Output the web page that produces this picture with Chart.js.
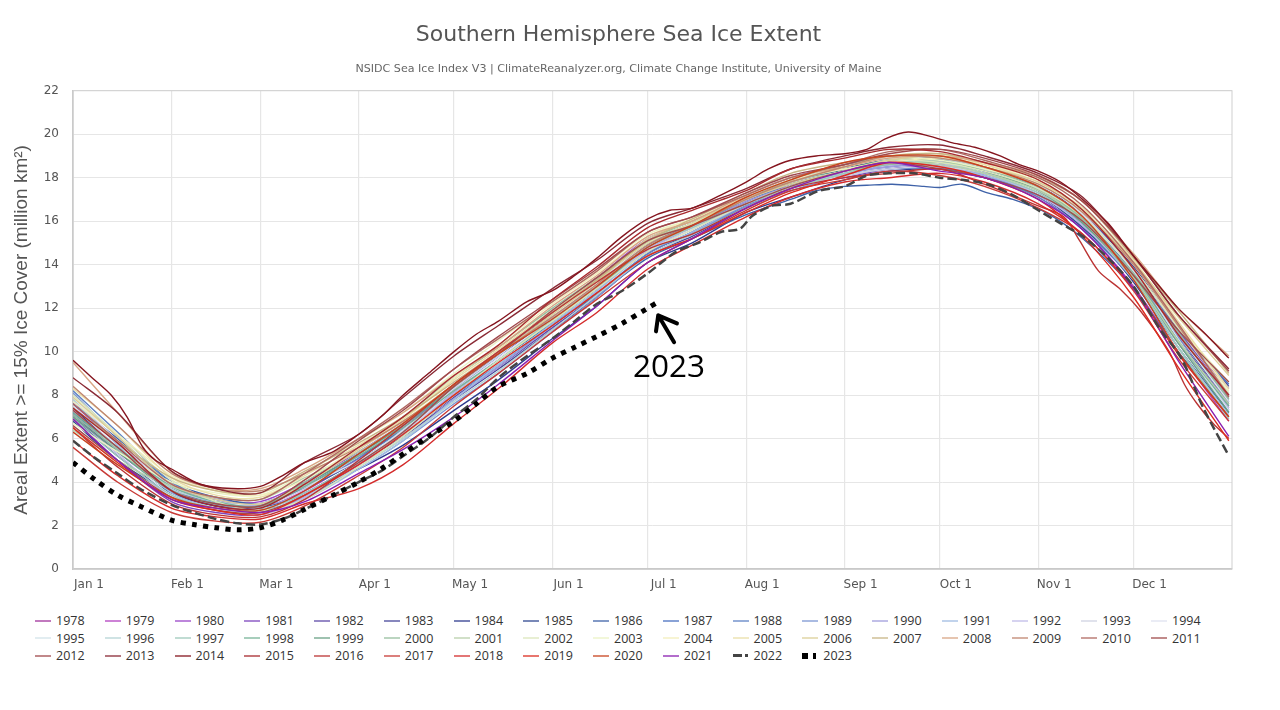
<!DOCTYPE html>
<html>
<head>
<meta charset="utf-8">
<title>Southern Hemisphere Sea Ice Extent</title>
<script src="https://cdn.jsdelivr.net/npm/chart.js@4/dist/chart.umd.min.js"></script>
<style>
    html, body { margin: 0; padding: 0; background: #fff; overflow: hidden; }
    #chartBox { position: absolute; left: 0; top: 0; width: 1236px; height: 600px; }
    #yearLegend {
        position: absolute; left: 35px; top: 612px;
        display: grid; grid-template-columns: repeat(17, 69.75px); grid-auto-rows: 17.5px;
        font: 12.5px "Open Sans", sans-serif; color: #333;
    }
    .legend-item { display: flex; align-items: center; height: 17.5px; }
    .legend-line { display: inline-block; width: 16px; height: 2px; margin-right: 5px; opacity: 0.65; }
    .legend-line.dashed { height: 3px; opacity: 1; background: linear-gradient(90deg, #444 9px, transparent 9px, transparent 12px, #444 12px, #444 15px, transparent 15px) !important; }
    .legend-line.dotted { height: 6px; opacity: 1; background: linear-gradient(90deg, #000 6px, transparent 6px, transparent 11px, #000 11px, #000 14px, transparent 14px) !important; }
    #note2023 { position: absolute; left: 633px; top: 343px; font: 31.5px "Open Sans", sans-serif; color: #000; }
</style>
</head>
<body>
<div id="chartBox"><canvas id="iceChart"></canvas></div>
<div id="note2023">2023</div>
<div id="yearLegend"></div>
<script>
/* Tick positions (day of year) and labels */
const monthDays = [0, 31, 59, 90, 120, 151, 181, 212, 243, 273, 304, 334];
const monthLabels = ['Jan 1', 'Feb 1', 'Mar 1', 'Apr 1', 'May 1', 'Jun 1', 'Jul 1', 'Aug 1', 'Sep 1', 'Oct 1', 'Nov 1', 'Dec 1'];

const sampleDays = [0, 14, 31, 45, 59, 73, 90, 104, 120, 134, 151, 165, 181, 195, 212, 226, 243, 257, 273, 287, 304, 318, 334, 348, 364];
// the lines that stand out of the bundle were read more closely
const days1986 = [0, 14, 31, 45, 59, 73, 90, 104, 120, 134, 151, 165, 181, 195, 212, 226, 234, 243, 250, 258, 268, 273, 280, 288, 296, 307, 318, 334, 348, 364];
const days2014 = [0, 6, 12, 17, 22, 26, 31, 40, 50, 59, 66, 73, 82, 90, 97, 104, 112, 120, 127, 134, 143, 151, 158, 165, 173, 181, 188, 195, 204, 212, 219, 226, 234, 243, 250, 256, 263, 270, 277, 284, 292, 298, 304, 311, 318, 326, 334, 341, 348, 356, 364];
const days2016 = [0, 14, 31, 45, 59, 73, 90, 104, 120, 134, 151, 165, 181, 195, 212, 226, 243, 257, 273, 287, 304, 312, 317, 323, 330, 336, 345, 350, 354, 359, 364];
const days2022 = [0, 7, 14, 21, 31, 38, 45, 52, 59, 66, 73, 82, 90, 97, 104, 112, 120, 127, 134, 143, 151, 158, 165, 173, 181, 190, 197, 204, 210, 214, 220, 226, 235, 243, 250, 257, 265, 273, 280, 288, 296, 304, 311, 318, 326, 334, 342, 349, 356, 364];
const days2023 = [0, 7, 14, 21, 31, 38, 45, 52, 59, 66, 73, 82, 90, 97, 104, 112, 120, 127, 134, 143, 151, 158, 165, 173, 181, 185];

const y1978 = [null, null, null, null, null, null, null, null, null, null, null, null, null, null, null, null, null, null, null, null, 17.4, 16.1, 13.6, 10.5, 7.4];
const y1979 = [7.3, 5.5, 3.7, 3.0, 2.8, 3.6, 5.1, 6.5, 8.3, 9.8, 11.6, 13.0, 14.8, 15.7, 16.9, 17.7, 18.3, 18.6, 18.5, 18.1, 17.1, 15.6, 13.0, 10.0, 6.8];
const y1980 = [7.6, 5.8, 3.9, 3.2, 3.1, 4.0, 5.4, 6.7, 8.5, 10.0, 11.9, 13.4, 15.2, 16.0, 17.2, 18.0, 18.6, 18.9, 18.8, 18.4, 17.6, 16.2, 13.7, 10.9, 8.3];
const y1981 = [6.9, 5.0, 3.1, 2.6, 2.5, 3.3, 4.8, 6.3, 8.2, 9.8, 11.8, 13.3, 15.0, 15.8, 17.0, 17.6, 18.0, 18.4, 18.5, 18.2, 17.5, 16.2, 13.9, 11.0, 8.0];
const y1982 = [7.1, 5.4, 3.6, 3.0, 2.9, 3.7, 5.0, 6.2, 7.9, 9.3, 11.1, 12.6, 14.5, 15.5, 16.8, 17.6, 18.4, 18.8, 18.7, 18.3, 17.4, 16.0, 13.6, 10.6, 7.6];
const y1983 = [7.0, 5.2, 3.5, 2.9, 2.8, 3.5, 4.9, 6.1, 7.8, 9.2, 11.0, 12.5, 14.4, 15.3, 16.6, 17.5, 18.3, 18.7, 18.8, 18.4, 17.6, 16.3, 13.9, 11.1, 8.4];
const y1984 = [7.4, 5.6, 3.6, 2.9, 2.8, 3.4, 4.6, 5.7, 7.3, 8.7, 10.6, 12.1, 14.1, 15.0, 16.4, 17.1, 17.9, 18.3, 18.4, 18.0, 17.2, 15.8, 13.2, 10.2, 7.2];
const y1985 = [6.8, 5.0, 3.5, 3.0, 2.9, 3.8, 5.2, 6.4, 8.1, 9.6, 11.4, 12.9, 14.6, 15.4, 16.7, 17.6, 18.4, 18.7, 18.5, 18.0, 17.2, 15.7, 13.4, 10.7, 7.7];
const y1986 = [7.6, 6.0, 4.0, 3.3, 3.0, 3.7, 5.0, 6.3, 8.2, 9.6, 11.3, 12.6, 14.3, 15.2, 16.3, 17.0, 17.4, 17.6, 17.65, 17.7, 17.6, 17.55, 17.7, 17.3, 17.0, 16.35, 15.2, 12.9, 10.0, 7.3];
const y1987 = [7.2, 5.5, 3.7, 3.1, 3.0, 3.9, 5.3, 6.6, 8.3, 9.8, 11.6, 13.0, 14.9, 15.8, 16.9, 17.7, 18.2, 18.5, 18.6, 18.2, 17.5, 16.1, 13.7, 11.0, 8.5];
const y1988 = [8.2, 6.3, 4.0, 3.2, 3.0, 3.8, 5.1, 6.4, 8.0, 9.4, 11.2, 12.7, 14.5, 15.5, 16.7, 17.6, 18.1, 18.4, 18.4, 18.0, 17.1, 15.6, 13.3, 10.4, 7.5];
const y1989 = [8.1, 6.1, 3.9, 3.0, 2.7, 3.3, 4.6, 5.9, 7.6, 9.0, 10.9, 12.5, 14.4, 15.4, 16.7, 17.4, 18.1, 18.6, 18.5, 18.1, 17.2, 15.9, 13.5, 10.7, 7.9];
const y1990 = [7.7, 5.9, 3.8, 3.2, 2.9, 3.5, 4.8, 6.0, 7.8, 9.3, 11.2, 12.8, 14.7, 15.7, 16.9, 17.6, 18.2, 18.5, 18.7, 18.3, 17.4, 16.0, 13.6, 10.8, 7.8];
const y1991 = [7.8, 5.7, 3.5, 2.8, 2.6, 3.2, 4.6, 5.9, 7.8, 9.4, 11.3, 12.8, 14.6, 15.5, 16.8, 17.6, 18.3, 18.6, 18.5, 18.1, 17.3, 15.9, 13.3, 10.2, 7.1];
const y1992 = [7.0, 5.3, 3.3, 2.7, 2.5, 3.3, 4.9, 6.3, 8.1, 9.6, 11.4, 12.9, 14.7, 15.6, 16.8, 17.5, 18.2, 18.6, 18.6, 18.2, 17.2, 15.8, 13.3, 10.4, 7.4];
const y1993 = [7.5, 5.6, 3.6, 3.0, 2.9, 3.7, 5.2, 6.6, 8.4, 9.9, 11.6, 13.1, 14.8, 15.7, 16.8, 17.5, 18.1, 18.4, 18.5, 18.2, 17.5, 16.1, 13.8, 11.1, 8.0];
const y1994 = [7.9, 5.9, 3.8, 3.1, 3.0, 3.8, 5.0, 6.3, 8.2, 9.7, 11.5, 13.0, 15.0, 15.9, 17.0, 17.8, 18.3, 18.7, 18.9, 18.4, 17.7, 16.3, 13.7, 10.8, 7.7];
const y1995 = [7.3, 5.5, 3.4, 2.8, 2.6, 3.4, 4.9, 6.4, 8.3, 9.8, 11.7, 13.2, 15.0, 15.9, 17.1, 17.9, 18.5, 18.9, 18.9, 18.5, 17.6, 16.2, 13.7, 10.6, 7.3];
const y1996 = [7.8, 5.8, 3.7, 3.1, 2.8, 3.4, 4.7, 6.0, 7.7, 9.1, 11.0, 12.6, 14.4, 15.4, 16.6, 17.5, 18.2, 18.7, 18.8, 18.4, 17.5, 16.1, 13.4, 10.2, 7.0];
const y1997 = [6.9, 5.2, 3.4, 2.8, 2.7, 3.5, 4.9, 6.2, 8.0, 9.6, 11.5, 13.0, 14.8, 15.7, 16.8, 17.5, 18.2, 18.7, 18.7, 18.2, 17.3, 15.9, 13.3, 10.2, 6.9];
const y1998 = [7.2, 5.6, 3.8, 3.1, 2.9, 3.8, 5.2, 6.5, 8.2, 9.6, 11.4, 12.9, 14.8, 15.8, 17.0, 17.9, 18.6, 19.0, 18.9, 18.5, 17.6, 16.0, 13.5, 10.5, 7.5];
const y1999 = [7.0, 5.4, 3.6, 3.0, 2.9, 3.9, 5.3, 6.6, 8.4, 10.0, 11.8, 13.3, 15.0, 15.9, 17.0, 17.8, 18.4, 18.8, 18.8, 18.3, 17.4, 15.9, 13.4, 10.4, 7.2];
const y2000 = [7.1, 5.5, 3.6, 3.0, 2.9, 4.0, 5.6, 7.0, 8.8, 10.2, 12.0, 13.4, 15.1, 16.0, 17.0, 17.7, 18.3, 18.6, 18.7, 18.4, 17.5, 16.1, 13.6, 10.9, 7.8];
const y2001 = [6.4, 5.0, 3.8, 3.3, 3.2, 4.2, 5.4, 6.7, 8.5, 10.0, 11.8, 13.3, 15.1, 15.9, 17.1, 17.9, 18.4, 18.7, 18.6, 18.2, 17.4, 16.0, 13.4, 10.5, 7.6];
const y2002 = [8.0, 6.2, 4.1, 3.1, 2.7, 3.2, 4.7, 6.1, 8.0, 9.6, 11.4, 12.9, 14.6, 15.6, 16.8, 17.6, 18.3, 18.8, 18.7, 18.3, 17.5, 16.2, 13.8, 11.1, 8.1];
const y2003 = [6.7, 5.4, 4.0, 3.5, 3.4, 4.4, 5.9, 7.2, 9.0, 10.5, 12.3, 13.7, 15.4, 16.1, 17.2, 18.0, 18.5, 18.9, 18.8, 18.4, 17.7, 16.4, 14.0, 11.2, 8.6];
const y2004 = [7.7, 6.2, 4.3, 3.6, 3.4, 4.1, 5.6, 6.9, 8.8, 10.3, 12.2, 13.6, 15.3, 16.1, 17.1, 17.9, 18.4, 18.7, 18.9, 18.6, 17.9, 16.5, 14.0, 11.3, 8.2];
const y2005 = [8.3, 6.6, 4.2, 3.4, 3.3, 4.3, 5.7, 6.9, 8.7, 10.1, 11.9, 13.3, 15.0, 15.9, 17.0, 17.8, 18.5, 19.0, 19.1, 18.6, 17.8, 16.6, 14.2, 11.4, 8.3];
const y2006 = [7.9, 6.1, 3.9, 3.2, 3.0, 3.9, 5.5, 6.8, 8.5, 9.9, 11.7, 13.2, 15.2, 16.0, 17.0, 17.7, 18.3, 18.8, 19.0, 18.5, 17.8, 16.5, 14.1, 11.6, 8.9];
const y2007 = [7.4, 5.9, 4.2, 3.6, 3.5, 4.5, 5.8, 7.0, 8.6, 10.0, 11.8, 13.3, 15.1, 16.1, 17.3, 18.2, 18.7, 19.0, 19.1, 18.7, 18.0, 16.9, 14.3, 11.9, 9.0];
const y2008 = [9.5, 7.2, 4.5, 3.7, 3.7, 4.6, 6.0, 7.2, 8.9, 10.2, 12.1, 13.5, 15.3, 16.0, 17.2, 18.0, 18.5, 18.9, 19.0, 18.7, 18.1, 16.9, 14.5, 12.0, 9.8];
const y2009 = [8.4, 6.6, 4.4, 3.7, 3.6, 4.4, 5.6, 6.8, 8.4, 9.9, 11.6, 13.1, 14.9, 15.8, 17.0, 17.8, 18.5, 19.0, 18.9, 18.5, 17.7, 16.4, 14.0, 11.2, 8.0];
const y2010 = [7.6, 5.9, 3.9, 3.3, 3.2, 4.4, 6.0, 7.4, 9.2, 10.6, 12.3, 13.7, 15.5, 16.2, 17.2, 18.0, 18.6, 19.2, 19.3, 18.8, 18.0, 16.7, 14.1, 11.3, 7.9];
const y2011 = [6.6, 5.0, 3.3, 2.7, 2.6, 3.4, 4.9, 6.3, 8.4, 9.9, 11.9, 13.4, 15.1, 15.8, 16.8, 17.6, 18.3, 18.7, 18.4, 18.0, 17.2, 16.0, 13.5, 11.0, 8.6];
const y2012 = [7.3, 5.6, 3.6, 3.0, 2.9, 4.1, 5.9, 7.3, 9.2, 10.7, 12.4, 13.8, 15.5, 16.2, 17.3, 18.1, 18.6, 19.1, 19.3, 18.9, 18.1, 16.9, 14.4, 11.7, 9.1];
const y2013 = [8.8, 7.2, 4.5, 3.7, 3.5, 4.9, 6.2, 7.9, 9.8, 11.2, 12.9, 14.2, 15.9, 16.6, 17.5, 18.4, 19.0, 19.4, 19.5, 19.0, 18.2, 17.1, 14.4, 11.7, 9.2];
const y2014 = [9.6, 8.8, 8.0, 7.0, 5.6, 5.0, 4.6, 3.9, 3.7, 3.8, 4.3, 4.9, 5.4, 6.2, 7.0, 8.0, 9.0, 10.0, 10.8, 11.4, 12.3, 12.8, 13.5, 14.3, 15.3, 16.1, 16.5, 16.6, 17.2, 17.8, 18.4, 18.8, 19.0, 19.1, 19.3, 19.8, 20.1, 19.9, 19.6, 19.4, 19.0, 18.6, 18.3, 17.8, 17.0, 15.9, 14.4, 13.2, 12.0, 10.9, 9.7];
const y2015 = [7.4, 5.8, 3.6, 2.9, 2.8, 3.9, 5.6, 7.0, 8.9, 10.3, 12.4, 13.9, 15.7, 16.5, 17.4, 18.4, 18.9, 19.3, 19.2, 18.7, 17.9, 16.5, 13.8, 10.8, 8.0];
const y2016 = [6.5, 4.7, 3.0, 2.5, 2.4, 3.2, 5.0, 6.6, 8.5, 10.0, 11.8, 13.2, 14.7, 15.4, 16.6, 17.5, 18.0, 18.2, 18.4, 17.7, 16.7, 16.2, 15.1, 13.7, 12.85, 11.9, 10.05, 8.5, 7.6, 6.7, 6.0];
const y2017 = [5.6, 4.0, 2.6, 2.2, 2.15, 2.9, 4.3, 5.6, 7.5, 9.0, 10.9, 12.4, 14.1, 15.2, 16.5, 17.4, 17.9, 18.3, 18.1, 17.6, 16.6, 15.4, 12.8, 9.7, 6.8];
const y2018 = [5.9, 4.3, 2.8, 2.4, 2.3, 3.0, 3.7, 4.8, 6.7, 8.3, 10.4, 11.8, 13.8, 14.9, 16.2, 17.1, 17.8, 18.0, 18.2, 17.8, 16.8, 15.4, 12.9, 9.9, 7.0];
const y2019 = [6.5, 4.9, 3.2, 2.7, 2.5, 3.4, 4.8, 6.2, 8.0, 9.5, 11.2, 12.7, 14.4, 15.2, 16.4, 17.3, 18.1, 18.7, 18.5, 18.0, 17.0, 15.3, 12.5, 9.3, 5.9];
const y2020 = [6.3, 4.8, 3.3, 2.8, 2.7, 3.6, 5.3, 6.7, 8.5, 9.9, 11.5, 13.0, 14.8, 15.8, 17.1, 17.9, 18.7, 19.0, 19.0, 18.5, 17.6, 16.2, 13.3, 10.0, 7.0];
const y2021 = [6.9, 5.0, 3.2, 2.8, 2.6, 3.1, 4.4, 5.5, 7.0, 8.5, 10.5, 12.1, 14.1, 15.2, 16.6, 17.5, 18.3, 18.7, 18.3, 18.0, 17.0, 15.6, 12.9, 9.6, 6.1];
const y2022 = [5.9, 5.1, 4.4, 3.7, 2.95, 2.6, 2.3, 2.1, 2.05, 2.3, 2.75, 3.4, 4.0, 4.5, 5.2, 6.0, 7.0, 7.8, 8.8, 9.8, 10.6, 11.4, 12.2, 12.8, 13.6, 14.6, 15.0, 15.5, 15.65, 16.25, 16.7, 16.8, 17.4, 17.6, 18.1, 18.2, 18.2, 18.0, 17.9, 17.7, 17.2, 16.5, 15.9, 15.3, 14.3, 13.0, 11.1, 9.7, 7.4, 5.2];
const y2023 = [4.9, 4.1, 3.4, 2.9, 2.25, 2.05, 1.9, 1.8, 1.9, 2.25, 2.75, 3.4, 4.0, 4.6, 5.3, 6.1, 6.8, 7.6, 8.4, 9.0, 9.7, 10.2, 10.7, 11.3, 12.0, 12.35];

const years = [1978, 1979, 1980, 1981, 1982, 1983, 1984, 1985, 1986, 1987, 1988, 1989, 1990, 1991, 1992, 1993, 1994,
    1995, 1996, 1997, 1998, 1999, 2000, 2001, 2002, 2003, 2004, 2005, 2006, 2007, 2008, 2009, 2010, 2011,
    2012, 2013, 2014, 2015, 2016, 2017, 2018, 2019, 2020, 2021, 2022, 2023];
const yearValues = [y1978, y1979, y1980, y1981, y1982, y1983, y1984, y1985, y1986, y1987, y1988, y1989, y1990, y1991, y1992, y1993, y1994,
    y1995, y1996, y1997, y1998, y1999, y2000, y2001, y2002, y2003, y2004, y2005, y2006, y2007, y2008, y2009, y2010, y2011,
    y2012, y2013, y2014, y2015, y2016, y2017, y2018, y2019, y2020, y2021, y2022, y2023];
const yearColors = ['#a0319b', '#b23fc0', '#9a45c8', '#7d45bd', '#5e4aa8', '#47469a', '#2f3c8f', '#2f4890', '#3f62a8', '#4a70c0', '#5f83c4', '#7c96d2', '#a09cdc', '#a0bce2', '#c0bbe8', '#d0d2e2', '#dfe2f0',
    '#d2e4ea', '#b6d4d6', '#9ecabc', '#78b498', '#6aa285', '#96bf9e', '#b8d0ab', '#dbe6bb', '#ebf2c4', '#f2eebc', '#eadfa8', '#dccf98', '#c8b585', '#d8a685', '#c08670', '#b06a62', '#a04c4c',
    '#a0484c', '#8a2a35', '#85151f', '#a82a2e', '#bb3434', '#c83a36', '#d42c2c', '#dc2c20', '#c8431f', '#8a1fb0', '#444444', '#000000'];
const yearDays = { 1986: days1986, 2014: days2014, 2016: days2016, 2022: days2022, 2023: days2023 };

const DASH_2022 = [9, 4];
const DOT_2023 = [5, 6.3];

/* ── Chart ── */
const plotBorder = {
    id: 'plotBorder',
    beforeDatasetsDraw(chart) {
        const { ctx, chartArea: a } = chart;
        ctx.save();
        ctx.strokeStyle = '#cfcfcf';
        ctx.lineWidth = 1;
        ctx.strokeRect(a.left, a.top, a.right - a.left, a.bottom - a.top);
        ctx.restore();
    }
};

// hand drawn arrow next to the 2023 line, in chart values
const arrow2023 = {
    id: 'arrow2023',
    afterDatasetsDraw(chart) {
        const { ctx, scales: { x, y } } = chart;
        const px = (d, v) => [x.getPixelForValue(d), y.getPixelForValue(v)];
        ctx.save();
        ctx.strokeStyle = '#000';
        ctx.lineWidth = 4;
        ctx.lineCap = 'round';
        ctx.lineJoin = 'round';
        ctx.beginPath();
        ctx.moveTo(...px(189.3, 10.43));
        ctx.lineTo(...px(184.3, 11.67));
        ctx.moveTo(...px(183.6, 10.93));
        ctx.lineTo(...px(184.3, 11.67));
        ctx.lineTo(...px(190.2, 11.3));
        ctx.stroke();
        ctx.restore();
    }
};

function buildDatasets() {
    return years.map((year, i) => {
        const days = yearDays[year] || sampleDays;
        return {
            label: String(year),
            data: days.map((d, k) => ({ x: d, y: yearValues[i][k] })),
            borderColor: yearColors[i],
            borderWidth: year === 2023 ? 5 : year === 2022 ? 2.5 : 1.4,
            borderDash: year === 2023 ? DOT_2023 : year === 2022 ? DASH_2022 : [],
            pointRadius: 0,
            tension: 0.3,
            order: years.length - i,
        };
    });
}

function buildLegend() {
    const box = document.getElementById('yearLegend');
    box.innerHTML = years.map((year, i) => {
        const cls = year === 2022 ? ' dashed' : year === 2023 ? ' dotted' : '';
        return `<div class="legend-item"><span class="legend-line${cls}" style="background:${yearColors[i]}"></span><span>${year}</span></div>`;
    }).join('');
}

document.addEventListener('DOMContentLoaded', () => {
    buildLegend();
    Chart.defaults.font.family = "'DejaVu Sans', sans-serif";
    new Chart(document.getElementById('iceChart'), {
        type: 'line',
        data: { datasets: buildDatasets() },
        plugins: [plotBorder, arrow2023],
        options: {
            responsive: true,
            maintainAspectRatio: false,
            animation: false,
            layout: { padding: { left: 5, right: 4 } },
            plugins: {
                legend: { display: false },
                tooltip: { enabled: false },
                title: {
                    display: true,
                    text: 'Southern Hemisphere Sea Ice Extent',
                    color: '#555',
                    font: { size: 22, weight: 'normal' },
                    padding: { top: 22, bottom: 10 },
                },
                subtitle: {
                    display: true,
                    text: 'NSIDC Sea Ice Index V3 | ClimateReanalyzer.org, Climate Change Institute, University of Maine',
                    color: '#666',
                    font: { size: 11.1 },
                    padding: { top: 4, bottom: 15 },
                },
            },
            scales: {
                x: {
                    type: 'linear',
                    min: 0,
                    max: 365,
                    afterBuildTicks(scale) {
                        scale.ticks = monthDays.map(value => ({ value }));
                    },
                    afterFit(scale) { scale.height = 31; },
                    grid: { color: '#e6e6e6', lineWidth: 1.2, drawTicks: false },
                    border: { color: '#c4c4c4', width: 1.5 },
                    ticks: {
                        color: '#555',
                        font: { size: 12 },
                        padding: 9,
                        maxRotation: 0,
                        autoSkip: false,
                        labelOffset: 16,
                        callback: value => monthLabels[monthDays.indexOf(value)],
                    },
                },
                y: {
                    min: 0,
                    max: 22,
                    afterFit(scale) { scale.width = 68; },
                    grid: { color: '#e6e6e6', drawTicks: false },
                    border: { color: '#c4c4c4', width: 1.5 },
                    ticks: { stepSize: 2, color: '#555', font: { size: 12 }, padding: 14 },
                    title: {
                        display: true,
                        text: 'Areal Extent >= 15% Ice Cover (million km²)',
                        color: '#555',
                        font: { family: "'Liberation Sans', sans-serif", size: 19 },
                        padding: { top: 5, bottom: 4 },
                    },
                },
            },
        },
    });
});
</script>
</body>
</html>
